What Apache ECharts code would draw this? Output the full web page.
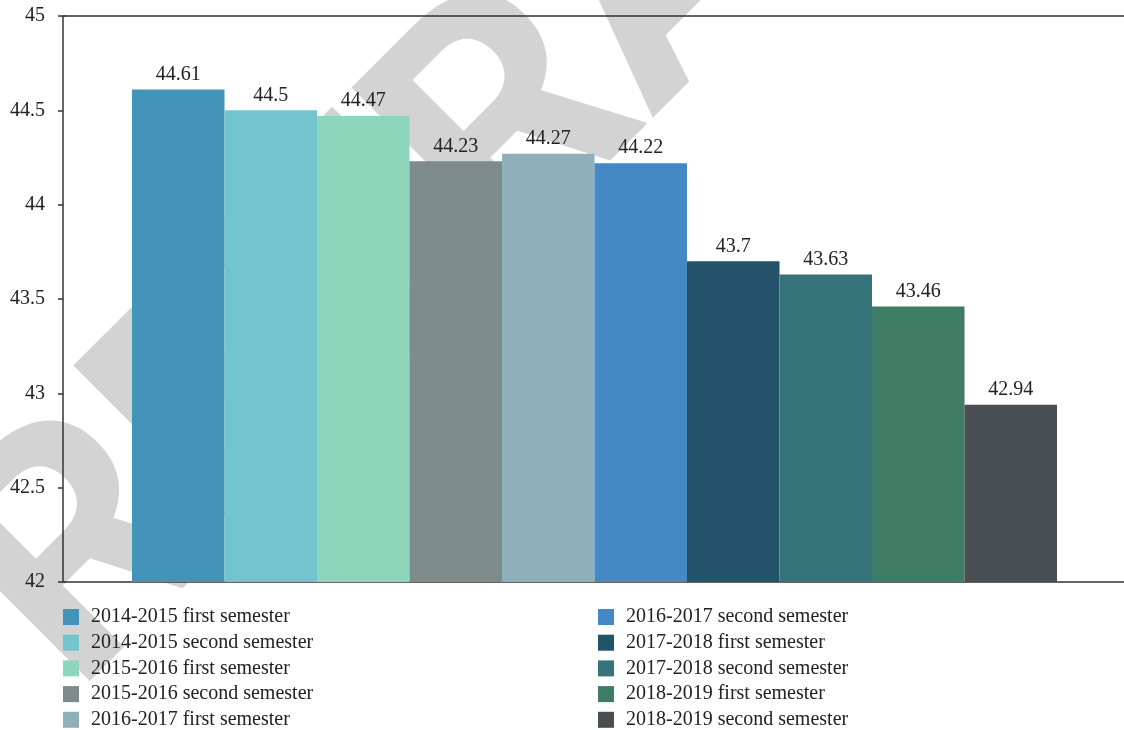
<!DOCTYPE html>
<html>
<head>
<meta charset="utf-8">
<script src="https://cdn.jsdelivr.net/npm/echarts@6/dist/echarts.min.js"></script>
<style>
  html, body { margin: 0; padding: 0; background: #fff; }
  #chart { width: 1124px; height: 730px; }
</style>
</head>
<body>
<div id="chart"></div>
<script>
// Semester labels (one series each), their values and bar colours
const semesters = [
  '2014-2015 first semester',
  '2014-2015 second semester',
  '2015-2016 first semester',
  '2015-2016 second semester',
  '2016-2017 first semester',
  '2016-2017 second semester',
  '2017-2018 first semester',
  '2017-2018 second semester',
  '2018-2019 first semester',
  '2018-2019 second semester'
];
const values = [44.61, 44.5, 44.47, 44.23, 44.27, 44.22, 43.7, 43.63, 43.46, 42.94];
const colors = ['#4493b9', '#72c5cc', '#8dd6bc', '#7d8c8b', '#8fb0ba',
                '#4489c6', '#24526b', '#37737a', '#3e7c65', '#484e52'];

// y-axis range
const yMin = 42, yMax = 45, yStep = 0.5;

const FONT = '"Liberation Serif", "DejaVu Serif", serif';
const TEXT = '#222';

const chart = echarts.init(document.getElementById('chart'), null, { renderer: 'canvas' });

const series = semesters.map((name, i) => ({
  name: name,
  type: 'bar',
  data: [values[i]],
  barGap: '0%',
  barWidth: 92.5,
  itemStyle: { color: colors[i] },
  label: {
    show: true,
    position: 'top',
    distance: 5,
    color: TEXT,
    fontFamily: FONT,
    fontSize: 20,
    formatter: p => String(p.value)
  }
}));

const legendBase = {
  orient: 'vertical',
  top: 607,
  height: 140,
  padding: 0,
  itemWidth: 16,
  itemHeight: 16,
  itemGap: 5.7,
  icon: 'rect',
  selectedMode: false,
  textStyle: { color: TEXT, fontFamily: FONT, fontSize: 20, padding: [0, 0, 0, 7] }
};

chart.setOption({
  animation: false,
  backgroundColor: '#fff',
  grid: { left: 65, right: 0, top: 16, bottom: 148, containLabel: false },
  xAxis: [
    {
      type: 'category',
      data: [''],
      axisLine: { show: true, lineStyle: { color: '#333', width: 1.5 } },
      axisTick: { show: false },
      axisLabel: { show: false }
    },
    {
      type: 'category',
      position: 'top',
      data: [''],
      axisLine: { show: true, lineStyle: { color: '#333', width: 1.5 } },
      axisTick: { show: false },
      axisLabel: { show: false }
    }
  ],
  yAxis: {
    type: 'value',
    min: yMin,
    max: yMax,
    interval: yStep,
    offset: 2,
    axisLine: { show: true, lineStyle: { color: '#333', width: 1.5 } },
    axisTick: { show: true, length: 5, lineStyle: { color: '#333', width: 1.5 } },
    axisLabel: { color: TEXT, fontFamily: FONT, fontSize: 20, margin: 18 },
    splitLine: { show: false }
  },
  legend: [
    Object.assign({}, legendBase, { left: 63, data: semesters.slice(0, 5) }),
    Object.assign({}, legendBase, { left: 598, data: semesters.slice(5) })
  ],
  graphic: [
    {
      // the corner segments so the frame meets the shifted y axis
      type: 'line',
      z: 5,
      silent: true,
      shape: { x1: 63, y1: 582, x2: 66, y2: 582 },
      style: { stroke: '#333', lineWidth: 1.5 }
    },
    {
      type: 'line',
      z: 5,
      silent: true,
      shape: { x1: 63, y1: 16, x2: 66, y2: 16 },
      style: { stroke: '#333', lineWidth: 1.5 }
    },
    {
      // diagonal watermark behind the plot
      type: 'text',
      z: -10,
      silent: true,
      x: 671,
      y: -17,
      rotation: Math.PI / 4,
      style: {
        text: 'RETRACTED',
        fill: '#d3d3d3',
        font: 'bold 330px Roboto, "Liberation Sans", sans-serif',
        align: 'center',
        verticalAlign: 'middle'
      }
    }
  ],
  series: series
});
</script>
</body>
</html>
